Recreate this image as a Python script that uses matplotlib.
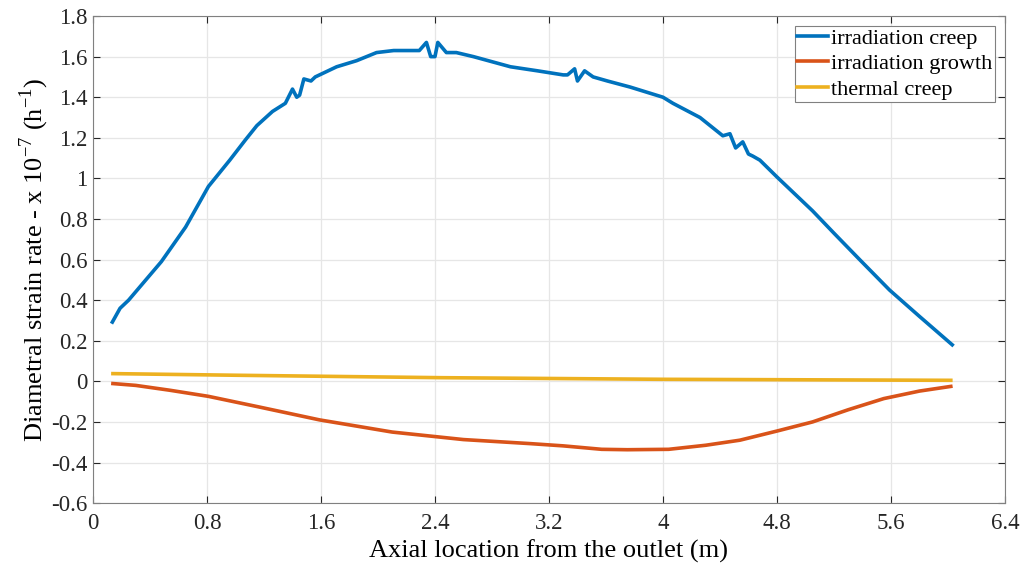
import matplotlib
matplotlib.use("Agg")
import matplotlib.pyplot as plt
import numpy as np

plt.rcParams['font.family'] = ['Liberation Serif', 'DejaVu Serif']
plt.rcParams['mathtext.fontset'] = 'custom'
plt.rcParams['mathtext.rm'] = 'Liberation Serif'

# irradiation creep
x_creep = [0.136, 0.19, 0.25, 0.48, 0.65, 0.81, 0.96, 1.07, 1.15, 1.26, 1.35, 1.40, 1.43,
           1.45, 1.48, 1.53, 1.56, 1.71, 1.85, 1.99, 2.11, 2.25, 2.29, 2.34, 2.37, 2.40,
           2.42, 2.48, 2.55, 2.67, 2.93, 3.12, 3.30, 3.33, 3.38, 3.40, 3.45, 3.51, 3.61,
           3.77, 4.00, 4.07, 4.26, 4.42, 4.47, 4.51, 4.56, 4.60, 4.63, 4.68, 4.80, 5.05,
           5.20, 5.38, 5.59, 5.80, 6.03]
y_creep = [0.292, 0.36, 0.40, 0.59, 0.76, 0.96, 1.09, 1.19, 1.26, 1.33, 1.37, 1.44, 1.40,
           1.41, 1.49, 1.48, 1.50, 1.55, 1.58, 1.62, 1.63, 1.63, 1.63, 1.67, 1.60, 1.60,
           1.67, 1.62, 1.62, 1.60, 1.55, 1.53, 1.51, 1.51, 1.54, 1.48, 1.53, 1.50, 1.48,
           1.45, 1.40, 1.37, 1.30, 1.21, 1.22, 1.15, 1.18, 1.12, 1.11, 1.09, 1.007, 0.84,
           0.73, 0.60, 0.45, 0.32, 0.18]

# irradiation growth
x_growth = [0.14, 0.30, 0.54, 0.81, 1.17, 1.59, 2.10, 2.60, 3.07, 3.30, 3.57, 3.75, 4.04,
            4.30, 4.54, 4.80, 5.05, 5.30, 5.55, 5.80, 6.02]
y_growth = [-0.011, -0.020, -0.044, -0.074, -0.127, -0.19, -0.25, -0.287, -0.307, -0.318,
            -0.335, -0.337, -0.335, -0.315, -0.29, -0.245, -0.20, -0.14, -0.085, -0.048,
            -0.025]

# thermal creep
x_thermal = [0.14, 1.0, 2.44, 4.0, 6.02]
y_thermal = [0.038, 0.030, 0.018, 0.010, 0.005]

fig = plt.figure(figsize=(10.24, 5.73), dpi=100)
ax = fig.add_axes([0.0908, 0.122, 0.8906, 0.85])

ax.plot(x_creep, y_creep, color='#0072BD', lw=2.6, label='irradiation creep')
ax.plot(x_growth, y_growth, color='#D95319', lw=2.6, label='irradiation growth')
ax.plot(x_thermal, y_thermal, color='#EDB120', lw=2.6, label='thermal creep')

ax.set_xlim(0, 6.4)
ax.set_ylim(-0.6, 1.8)
ax.set_xticks(np.arange(0, 6.41, 0.8))
ax.set_xticklabels(['0', '0.8', '1.6', '2.4', '3.2', '4', '4.8', '5.6', '6.4'])
ax.set_yticks(np.arange(-0.6, 1.81, 0.2))
ax.set_yticklabels(['-0.6', '-0.4', '-0.2', '0', '0.2', '0.4', '0.6', '0.8', '1',
                    '1.2', '1.4', '1.6', '1.8'])
ax.grid(True, color='#e6e6e6', lw=0.9)
ax.set_axisbelow(True)
ax.tick_params(direction='in', top=True, right=True, labelsize=16.5, colors='#262626',
               length=5)
ax.tick_params(axis='x', pad=7)
ax.tick_params(axis='y', pad=4)
for s in ax.spines.values():
    s.set_color('#808080')

ax.set_xlabel('Axial location from the outlet (m)', fontsize=19, labelpad=4)
ax.set_ylabel(r'Diametral strain rate - x 10$^{-7}$ (h$^{-1}$)', fontsize=19, labelpad=0)

leg = ax.legend(loc='upper right', fontsize=16, fancybox=False, framealpha=1,
                edgecolor='#808080', handlelength=1.4, handletextpad=0.15,
                borderpad=0.1, labelspacing=0.22, borderaxespad=0.45)
leg.get_frame().set_linewidth(0.8)

fig.savefig('out.png', dpi=100)
